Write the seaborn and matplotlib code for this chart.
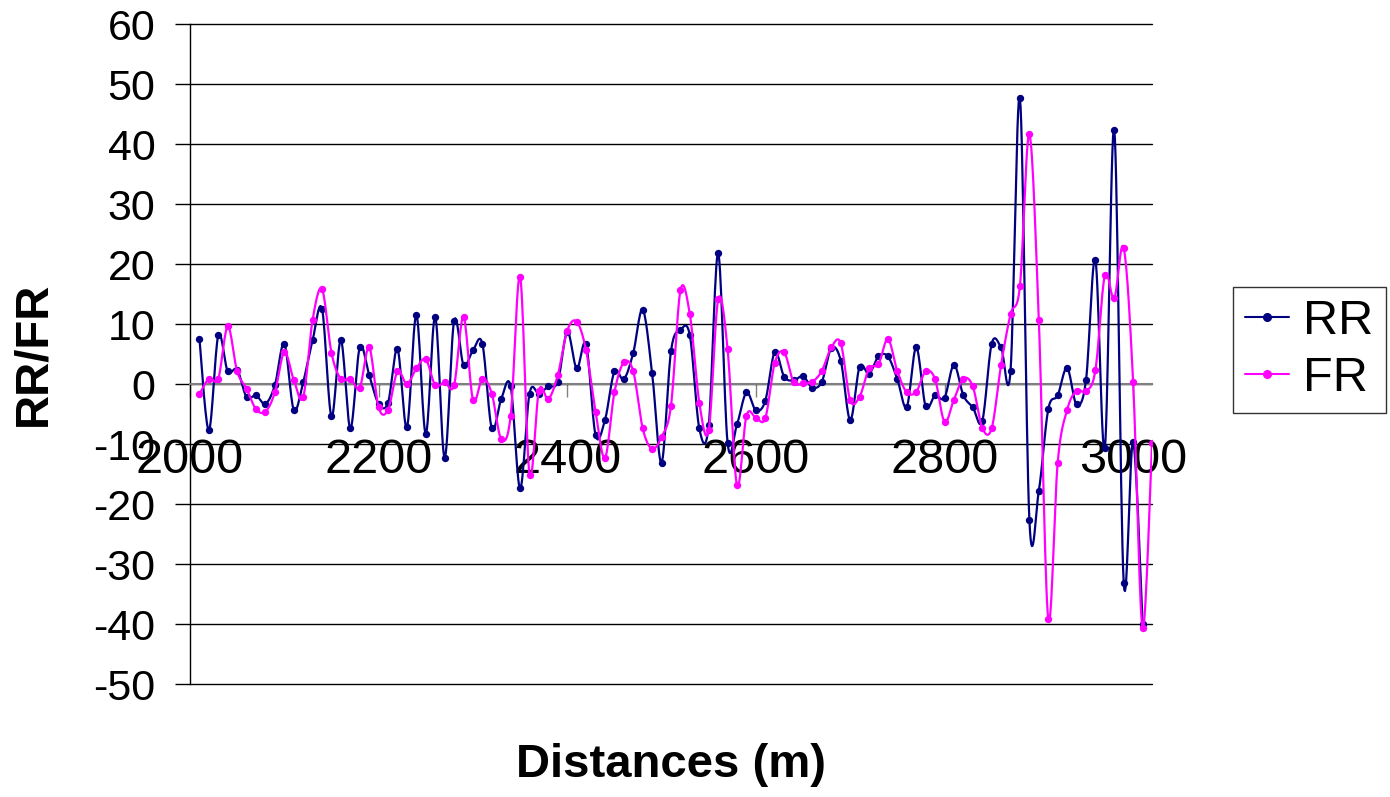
import numpy as np
import matplotlib
matplotlib.use('Agg')
import matplotlib.pyplot as plt
from matplotlib.lines import Line2D
import seaborn as sns

sns.set_style('white')
plt.rcParams['font.family'] = ['Liberation Sans', 'DejaVu Sans']
plt.rcParams['axes.unicode_minus'] = False
plt.rcParams['text.color'] = 'black'
plt.rcParams['axes.labelcolor'] = 'black'
plt.rcParams['xtick.color'] = 'black'
plt.rcParams['ytick.color'] = 'black'

# distances along the profile (m)
distances = [
    2010, 2020, 2030, 2040, 2050, 2060, 2070, 2080, 2090, 2100,
    2110, 2120, 2130, 2140, 2150, 2160, 2170, 2180, 2190, 2200,
    2210, 2220, 2230, 2240, 2250, 2260, 2270, 2280, 2290, 2300,
    2310, 2320, 2330, 2340, 2350, 2360, 2370, 2380, 2390, 2400,
    2410, 2420, 2430, 2440, 2450, 2460, 2470, 2480, 2490, 2500,
    2510, 2520, 2530, 2540, 2550, 2560, 2570, 2580, 2590, 2600,
    2610, 2620, 2630, 2640, 2650, 2660, 2670, 2680, 2690, 2700,
    2710, 2720, 2730, 2740, 2750, 2760, 2770, 2780, 2790, 2800,
    2810, 2820, 2830, 2840, 2850, 2860, 2870, 2880, 2890, 2900,
    2910, 2920, 2930, 2940, 2950, 2960, 2970, 2980, 2990, 3000,
    3010, 3020,
]

rr = [
    7.5, -7.7, 8.1, 2.1, 2.4, -2.2, -1.9, -3.3, -0.2, 6.7,
    -4.3, 0.3, 7.3, 12.5, -5.4, 7.3, -7.4, 6.1, 1.5, -3.3,
    -3.1, 5.8, -7.2, 11.5, -8.3, 11.2, -12.3, 10.5, 3.2, 5.6,
    6.7, -7.4, -2.5, -0.4, -17.4, -1.6, -1.6, -0.4, 0.4, 8.7,
    2.6, 6.6, -8.5, -6.0, 2.1, 0.8, 5.2, 12.4, 1.8, -13.1,
    5.5, 9.0, 8.1, -7.4, -6.9, 21.8, -9.8, -6.7, -1.4, -4.4,
    -2.8, 5.3, 1.2, 0.6, 1.3, -0.6, 0.4, 6.0, 3.9, -6.0,
    2.9, 1.7, 4.6, 4.6, 0.8, -3.8, 6.1, -3.7, -1.9, -2.3,
    3.2, -1.9, -3.9, -6.2, 6.7, 6.1, 2.2, 47.6, -22.7, -17.8,
    -4.2, -1.9, 2.7, -3.4, 0.6, 20.7, -10.7, 42.4, -33.1, -9.6,
    -40.0,
]

fr = [
    -1.7, 0.9, 0.9, 9.6, 2.1, -0.8, -4.2, -4.6, -1.4, 5.3,
    0.7, -2.2, 10.7, 15.8, 5.2, 0.8, 0.9, -0.6, 6.1, -3.9,
    -4.3, 2.1, 0.0, 2.6, 4.1, -0.2, 0.3, -0.2, 11.2, -2.6,
    0.9, -1.6, -9.2, -5.3, 17.9, -15.1, -1.1, -2.5, 1.5, 8.9,
    10.4, 5.6, -4.6, -12.3, -1.4, 3.6, 2.1, -7.4, -10.8, -8.8,
    -3.6, 15.6, 11.6, -3.1, -7.7, 14.1, 5.8, -16.9, -5.3, -5.6,
    -5.7, 3.5, 5.3, 0.3, 0.1, 0.4, 2.2, 6.1, 6.8, -2.7,
    -2.1, 2.6, 3.3, 7.5, 2.1, -1.4, -1.3, 2.1, 0.8, -6.3,
    -2.6, 0.9, -0.4, -7.3, -7.4, 3.2, 11.6, 16.4, 41.6, 10.7,
    -39.2, -13.1, -4.3, -1.1, -1.2, 2.3, 18.1, 14.3, 22.7, 0.3,
    -40.6, -9.9,
]

series = [('RR', rr, '#000080'), ('FR', fr, '#FF00FF')]


def smooth(x, y, n=16):
    # excel-like smoothed line (bezier through the points)
    pts = np.column_stack([x, y]).astype(float)
    p = np.vstack([pts[0], pts, pts[-1]])
    t = np.linspace(0, 1, n)[:, None]
    out = []
    for i in range(1, len(p) - 2):
        p0, p1, p2, p3 = p[i - 1], p[i], p[i + 1], p[i + 2]
        c1 = p1 + (p2 - p0) / 6
        c2 = p2 - (p3 - p1) / 6
        seg = (1 - t) ** 3 * p1 + 3 * (1 - t) ** 2 * t * c1 + 3 * (1 - t) * t ** 2 * c2 + t ** 3 * p2
        out.append(seg if i == 1 else seg[1:])
    out = np.vstack(out)
    return out[:, 0], out[:, 1]


fig = plt.figure(figsize=(13.9, 7.97), dpi=100)
ax = fig.add_axes([190 / 1390, 1 - 684 / 797, 962 / 1390, 660 / 797])

z = 3
for name, vals, col in series:
    xs = distances[:len(vals)]
    sx, sy = smooth(xs, vals)
    sns.lineplot(x=sx, y=sy, sort=False, estimator=None, color=col, linewidth=1.6, ax=ax, zorder=z)
    sns.scatterplot(x=xs, y=vals, color=col, edgecolor=col, s=28, linewidth=0, ax=ax, zorder=z + 1)
    z += 2

ax.set_xlim(2000, 3020)
ax.set_ylim(-50, 60)
ax.set_xticks([2000, 2200, 2400, 2600, 2800, 3000])
ax.set_yticks(list(range(-50, 61, 10)))

ax.grid(axis='y', color='black', linewidth=1)
ax.grid(axis='x', visible=False)
ax.set_axisbelow(True)
for gl in ax.get_ygridlines():
    gl.set_clip_on(False)

for s in ['top', 'right']:
    ax.spines[s].set_visible(False)
ax.spines['left'].set_color('black')
ax.spines['left'].set_linewidth(1)
ax.spines['bottom'].set_position(('data', 0))
ax.spines['bottom'].set_color('#808080')
ax.spines['bottom'].set_linewidth(1.5)
ax.spines['bottom'].set_zorder(2.5)

ax.tick_params(axis='x', direction='out', length=9, width=1, color='#808080',
               labelsize=35, pad=30, bottom=True, labelcolor='black')
ax.tick_params(axis='y', direction='out', length=11, width=1, color='black',
               labelsize=31, pad=14, left=True, labelcolor='black')

ax.set_xlabel('Distances (m)', fontsize=34, fontweight='bold', color='black')
ax.set_ylabel('RR/FR', fontsize=34, fontweight='bold', color='black')
ax.xaxis.set_label_coords(0.5, -0.09)
ax.yaxis.set_label_coords(-0.14, 0.5)

handles = [Line2D([0], [0], color=col, linewidth=1.5, marker='o', markersize=5.5)
           for _, _, col in series]
leg = ax.legend(handles, [name for name, _, _ in series], loc='upper left',
                bbox_to_anchor=(1233 / 1390, 1 - 287 / 797), bbox_transform=fig.transFigure,
                fontsize=35, frameon=True, fancybox=False, edgecolor='black',
                handlelength=0.9, handletextpad=0.3, labelspacing=0.25,
                borderpad=0.25, borderaxespad=0, markerscale=1)
leg.get_frame().set_linewidth(1)
for txt in leg.get_texts():
    txt.set_color('black')

fig.savefig('out.png', dpi=100)
